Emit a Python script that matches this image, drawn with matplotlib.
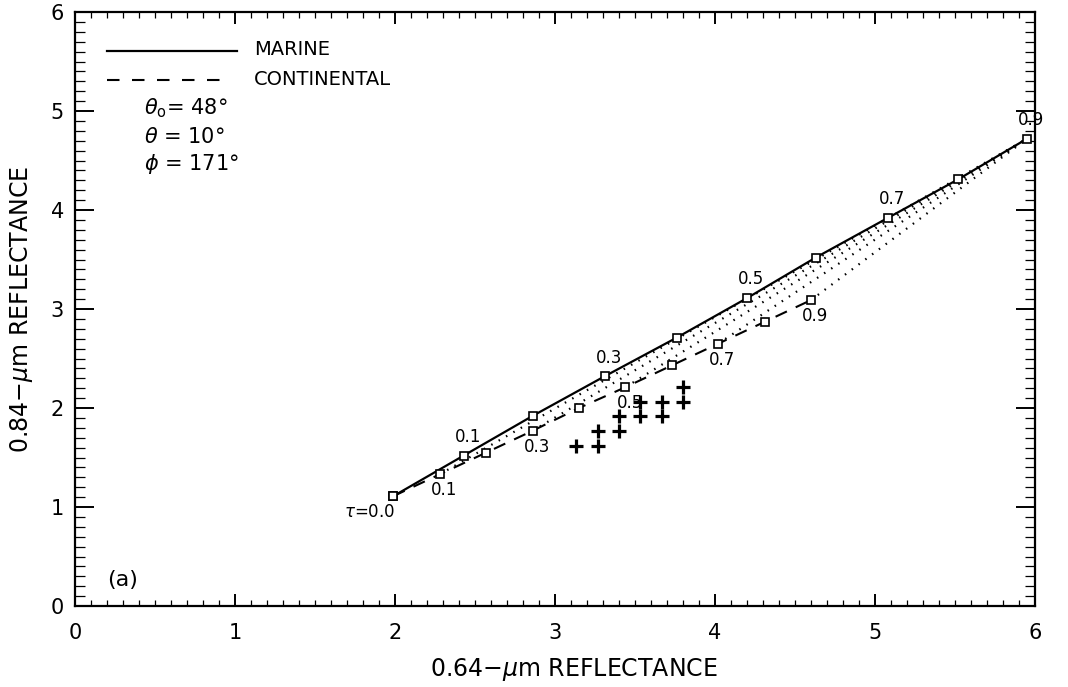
import matplotlib.pyplot as plt
from matplotlib.ticker import MultipleLocator

plt.rcParams['font.family'] = ['DejaVu Sans']
plt.rcParams['lines.scale_dashes'] = False

# aerosol optical depth along the model curves
tau = [0.0, 0.1, 0.2, 0.3, 0.4, 0.5, 0.6, 0.7, 0.8, 0.9]

# marine model: 0.64-um and 0.84-um reflectance
marine_r064 = [1.99, 2.43, 2.86, 3.31, 3.76, 4.20, 4.63, 5.08, 5.52, 5.95]
marine_r084 = [1.11, 1.52, 1.92, 2.32, 2.71, 3.11, 3.52, 3.92, 4.31, 4.72]

# continental model
cont_r064 = [1.99, 2.28, 2.57, 2.86, 3.15, 3.44, 3.73, 4.02, 4.31, 4.60]
cont_r084 = [1.11, 1.33, 1.55, 1.77, 2.00, 2.21, 2.43, 2.65, 2.87, 3.09]

# measured reflectances
obs_r064 = [3.13, 3.27, 3.27, 3.40, 3.40, 3.53, 3.67, 3.53, 3.67, 3.80, 3.80]
obs_r084 = [1.62, 1.62, 1.77, 1.77, 1.92, 1.92, 1.92, 2.06, 2.06, 2.06, 2.21]

labelled = [1, 3, 5, 7, 9]

fig = plt.figure(figsize=(10.68, 6.87), dpi=100)
ax = fig.add_axes([0.0702, 0.1179, 0.8989, 0.8646])

# dotted lines from the continental points to the top marine point
for i in labelled:
    ax.plot([cont_r064[i], marine_r064[-1]], [cont_r084[i], marine_r084[-1]],
            color='black', lw=1.6, linestyle=(0, (1.1, 5.0)))

ax.plot(marine_r064, marine_r084, color='black', lw=1.6)
ax.plot(cont_r064, cont_r084, color='black', lw=1.5, dashes=(9, 7))
ax.plot(marine_r064, marine_r084, 's', ms=5.5, mfc='white', mec='black', mew=1.2)
ax.plot(cont_r064, cont_r084, 's', ms=5.5, mfc='white', mec='black', mew=1.2)
ax.plot(obs_r064, obs_r084, '+', ms=10, mew=2.3, color='black')

for i in labelled:
    ax.annotate(f'{tau[i]:.1f}', (marine_r064[i], marine_r084[i]), xytext=(3, 7),
                textcoords='offset points', ha='center', va='bottom', fontsize=12)
    ax.annotate(f'{tau[i]:.1f}', (cont_r064[i], cont_r084[i]), xytext=(3, -5),
                textcoords='offset points', ha='center', va='top', fontsize=12)
ax.annotate(r'$\tau$=0.0', (marine_r064[0], marine_r084[0]), xytext=(1, -5),
            textcoords='offset points', ha='right', va='top', fontsize=12)

# legend drawn by hand
ax.plot([0.2, 1.01], [5.61, 5.61], color='black', lw=1.6)
ax.plot([0.2, 0.95], [5.31, 5.31], color='black', lw=1.5, dashes=(9, 9))
ax.text(1.12, 5.62, 'MARINE', fontsize=14, va='center')
ax.text(1.12, 5.32, 'CONTINENTAL', fontsize=14, va='center')
ax.text(0.43, 5.03, r'$\theta_{\rm o}$= 48°', fontsize=15, va='center')
ax.text(0.43, 4.74, r'$\theta$ = 10°', fontsize=15, va='center')
ax.text(0.43, 4.46, r'$\phi$ = 171°', fontsize=15, va='center')
ax.text(0.2, 0.26, '(a)', fontsize=16, va='center')

ax.set_xlim(0, 6)
ax.set_ylim(0, 6)
ax.xaxis.set_major_locator(MultipleLocator(1))
ax.yaxis.set_major_locator(MultipleLocator(1))
ax.xaxis.set_minor_locator(MultipleLocator(0.1))
ax.yaxis.set_minor_locator(MultipleLocator(0.1))
ax.tick_params(which='both', direction='in', top=True, right=True, labelsize=15)
ax.tick_params(which='major', width=1.4)
ax.tick_params(which='minor', width=0.9)
ax.tick_params(axis='x', which='major', length=8.6, pad=12)
ax.tick_params(axis='x', which='minor', length=4.3)
ax.tick_params(axis='y', which='major', length=14, pad=8)
ax.tick_params(axis='y', which='minor', length=7)
for s in ax.spines.values():
    s.set_linewidth(1.6)

ax.set_xlabel(r'0.64$-\mu$m REFLECTANCE', fontsize=17)
ax.set_ylabel(r'0.84$-\mu$m REFLECTANCE', fontsize=17)
ax.xaxis.set_label_coords(0.52, -0.085)
ax.yaxis.set_label_coords(-0.042, 0.5)

fig.savefig('out.png', dpi=100)
